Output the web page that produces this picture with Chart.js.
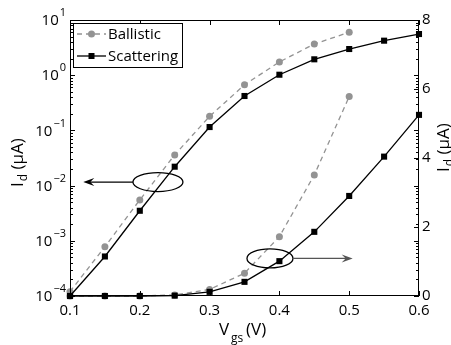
<!DOCTYPE html>
<html>
<head>
<meta charset="utf-8">
<script src="https://cdn.jsdelivr.net/npm/chart.js@4/dist/chart.umd.min.js"></script>
<style>
  body { margin: 0; background: #fff; }
  #wrap { width: 451px; height: 345px; }
</style>
</head>
<body>
<div id="wrap"><canvas id="myChart" width="451" height="345"></canvas></div>
<script>
{
  'use strict';

  /* Data */
  const vgs = [0.1, 0.15, 0.2, 0.25, 0.3, 0.35, 0.4, 0.45, 0.5, 0.55, 0.6];

  // log axis (left)
  const ballisticLog = [1.2e-4, 7.8e-4, 5.5e-3, 0.036, 0.18, 0.67, 1.74, 3.67, 6.0];
  const scatteringLog = [1e-4, 5.2e-4, 3.5e-3, 0.022, 0.115, 0.42, 1.02, 1.94, 2.98, 4.22, 5.57];

  // linear axis (right)
  const ballisticLin = [0, 0, 0, 0.03, 0.19, 0.66, 1.72, 3.51, 5.78];
  const scatteringLin = [0, 0, 0, 0.01, 0.12, 0.41, 1.01, 1.86, 2.9, 4.04, 5.25];

  const xTicks = [0.1, 0.2, 0.3, 0.4, 0.5, 0.6];
  const logTicks = [1e-4, 1e-3, 1e-2, 1e-1, 1, 10];
  const logExponents = ['\u22124', '\u22123', '\u22122', '\u22121', '0', '1'];
  const linTicks = [0, 2, 4, 6, 8];

  const GREY = '#939393';
  const FONT = '"Open Sans", "DejaVu Sans", sans-serif';

  function pts(ys) {
    return ys.map((y, i) => ({ x: vgs[i], y: y }));
  }

  /* Frame, ticks, labels, legend and annotations */
  const decorPlugin = {
    id: 'decor',
    afterDraw(chart) {
      const c = chart.ctx;
      const a = chart.chartArea;
      const sx = chart.scales.x;
      const sy = chart.scales.y;
      const sy2 = chart.scales.y2;

      c.save();
      c.strokeStyle = '#000';
      c.lineWidth = 1;

      // box
      c.strokeRect(a.left + 0.5, a.top + 0.5, a.right - a.left - 1, a.bottom - a.top - 1);

      c.beginPath();
      // x ticks, bottom and top
      for (let v of xTicks) {
        const px = Math.round(sx.getPixelForValue(v)) + 0.5;
        c.moveTo(px, a.bottom); c.lineTo(px, a.bottom - 5);
        c.moveTo(px, a.top); c.lineTo(px, a.top + 5);
      }
      // log ticks, both sides
      for (let d = -4; d <= 1; d++) {
        const py = Math.round(sy.getPixelForValue(Math.pow(10, d))) + 0.5;
        c.moveTo(a.left, py); c.lineTo(a.left + 5, py);
        c.moveTo(a.right, py); c.lineTo(a.right - 5, py);
        if (d < 1) {
          for (let m = 2; m <= 9; m++) {
            const pm = Math.round(sy.getPixelForValue(m * Math.pow(10, d))) + 0.5;
            c.moveTo(a.left, pm); c.lineTo(a.left + 3, pm);
            c.moveTo(a.right, pm); c.lineTo(a.right - 3, pm);
          }
        }
      }
      // linear ticks on the right
      for (let v of linTicks) {
        const py = Math.round(sy2.getPixelForValue(v)) + 0.5;
        c.moveTo(a.right, py); c.lineTo(a.right - 5, py);
      }
      c.stroke();

      // log tick labels with superscripts
      c.fillStyle = '#000';
      c.textBaseline = 'middle';
      logTicks.forEach((v, i) => {
        const py = sy.getPixelForValue(v);
        c.font = '11px ' + FONT;
        const ew = c.measureText(logExponents[i]).width;
        c.textAlign = 'left';
        const ex = a.left - 4 - ew;
        c.fillText(logExponents[i], ex, py - 7);
        c.font = '15px ' + FONT;
        c.textAlign = 'right';
        c.fillText('10', ex - 1, py + 1);
      });

      // axis titles
      c.textBaseline = 'alphabetic';
      c.textAlign = 'left';
      function yTitle(x, y) {
        c.save();
        c.translate(x, y);
        c.rotate(-Math.PI / 2);
        c.font = '17px ' + FONT;
        c.fillText('I', 0, 0);
        let w = c.measureText('I').width + 1;
        c.font = '12px ' + FONT;
        c.fillText('d', w, 4);
        w += c.measureText('d').width;
        c.font = '17px ' + FONT;
        c.fillText(' (\u03bcA)', w, 0);
        c.restore();
      }
      yTitle(23, 187);
      yTitle(449, 172);

      c.font = '17px ' + FONT;
      c.fillText('V', 219, 335);
      c.font = '12px ' + FONT;
      c.fillText('gs', 231, 342);
      c.font = '17px ' + FONT;
      c.fillText('(V)', 246, 335);

      // annotations: ellipse + arrow
      function ellipseArrow(cx, cy, rx, ry, x1, x2, color) {
        c.strokeStyle = '#000';
        c.lineWidth = 1.3;
        c.beginPath();
        c.ellipse(cx, cy, rx, ry, 0, 0, Math.PI * 2);
        c.stroke();
        const dir = Math.sign(x2 - x1);
        c.strokeStyle = color;
        c.fillStyle = color;
        c.lineWidth = 1.2;
        c.beginPath();
        c.moveTo(x1, cy); c.lineTo(x2 - dir * 6, cy);
        c.stroke();
        c.beginPath();
        c.moveTo(x2, cy);
        c.lineTo(x2 - dir * 11, cy - 4);
        c.lineTo(x2 - dir * 7, cy);
        c.lineTo(x2 - dir * 11, cy + 4);
        c.closePath();
        c.fill();
      }
      const e1x = sx.getPixelForValue(0.226);
      const e1y = sy.getPixelForValue(0.0116);
      ellipseArrow(e1x, e1y, 25, 9.5, e1x - 25, sx.getPixelForValue(0.119), '#000');
      const e2x = sx.getPixelForValue(0.3865);
      const e2y = sy2.getPixelForValue(1.09);
      ellipseArrow(e2x, e2y, 23, 9.5, e2x + 23, sx.getPixelForValue(0.505), '#555');

      // legend
      const lx = 73, ly = 23, lw = 109, lh = 44;
      c.fillStyle = '#fff';
      c.fillRect(lx, ly, lw, lh);
      c.strokeStyle = '#000';
      c.lineWidth = 1;
      c.strokeRect(lx + 0.5, ly + 0.5, lw, lh);

      const r1 = 34, r2 = 56;
      c.strokeStyle = GREY;
      c.lineWidth = 1.3;
      c.setLineDash([5, 4]);
      c.beginPath(); c.moveTo(77, r1); c.lineTo(106, r1); c.stroke();
      c.setLineDash([]);
      c.fillStyle = GREY;
      c.beginPath(); c.arc(91.5, r1, 3.5, 0, Math.PI * 2); c.fill();

      c.strokeStyle = '#000';
      c.beginPath(); c.moveTo(77, r2); c.lineTo(106, r2); c.stroke();
      c.fillStyle = '#000';
      c.fillRect(88.5, r2 - 3, 6, 6);

      c.font = '15px ' + FONT;
      c.textBaseline = 'middle';
      c.fillText('Ballistic', 108, r1 + 1);
      c.fillText('Scattering', 108, r2 + 1);

      c.restore();
    }
  };

  /* Chart */
  function initChart() {
    const ctx = document.getElementById('myChart').getContext('2d');

    const common = { showLine: true, clip: false, borderWidth: 1.3, tension: 0 };
    const ballisticStyle = {
      borderColor: GREY, backgroundColor: GREY, borderDash: [5, 4],
      pointStyle: 'circle', pointRadius: 3.5, pointBorderWidth: 0, order: 2,
    };
    const scatteringStyle = {
      borderColor: '#000', backgroundColor: '#000',
      pointStyle: 'rect', pointRadius: 4.3, pointBorderWidth: 0, order: 1,
    };

    new Chart(ctx, {
      type: 'line',
      data: {
        datasets: [
          Object.assign({ label: 'Ballistic', data: pts(ballisticLog), yAxisID: 'y' }, common, ballisticStyle),
          Object.assign({ label: 'Scattering', data: pts(scatteringLog), yAxisID: 'y' }, common, scatteringStyle),
          Object.assign({ label: 'Ballistic lin', data: pts(ballisticLin), yAxisID: 'y2' }, common, ballisticStyle),
          Object.assign({ label: 'Scattering lin', data: pts(scatteringLin), yAxisID: 'y2' }, common, scatteringStyle),
        ]
      },
      options: {
        responsive: false,
        animation: false,
        events: [],
        layout: { padding: { top: 20, left: 0, right: 0, bottom: 0 } },
        plugins: { legend: { display: false }, tooltip: { enabled: false } },
        scales: {
          x: {
            type: 'linear',
            min: 0.1, max: 0.6,
            afterBuildTicks: (s) => { s.ticks = xTicks.map(v => ({ value: v })); },
            afterFit: (s) => { s.height = 49; },
            grid: { display: false, drawTicks: false },
            border: { display: false },
            ticks: {
              padding: 6,
              color: '#000',
              font: { family: FONT, size: 15 },
              callback: (v) => v.toFixed(1),
              maxRotation: 0,
            },
          },
          y: {
            type: 'logarithmic',
            position: 'left',
            min: 1e-4, max: 10,
            afterBuildTicks: (s) => { s.ticks = logTicks.map(v => ({ value: v })); },
            afterFit: (s) => { s.width = 70; },
            grid: { display: false, drawTicks: false },
            border: { display: false },
            ticks: { display: false },
          },
          y2: {
            type: 'linear',
            position: 'right',
            min: 0, max: 8,
            afterBuildTicks: (s) => { s.ticks = linTicks.map(v => ({ value: v })); },
            afterFit: (s) => { s.width = 32; },
            grid: { display: false, drawTicks: false },
            border: { display: false },
            ticks: {
              padding: 3,
              color: '#000',
              font: { family: FONT, size: 15 },
            },
          },
        },
      },
      plugins: [decorPlugin],
    });
  }

  initChart();
}
</script>
</body>
</html>
